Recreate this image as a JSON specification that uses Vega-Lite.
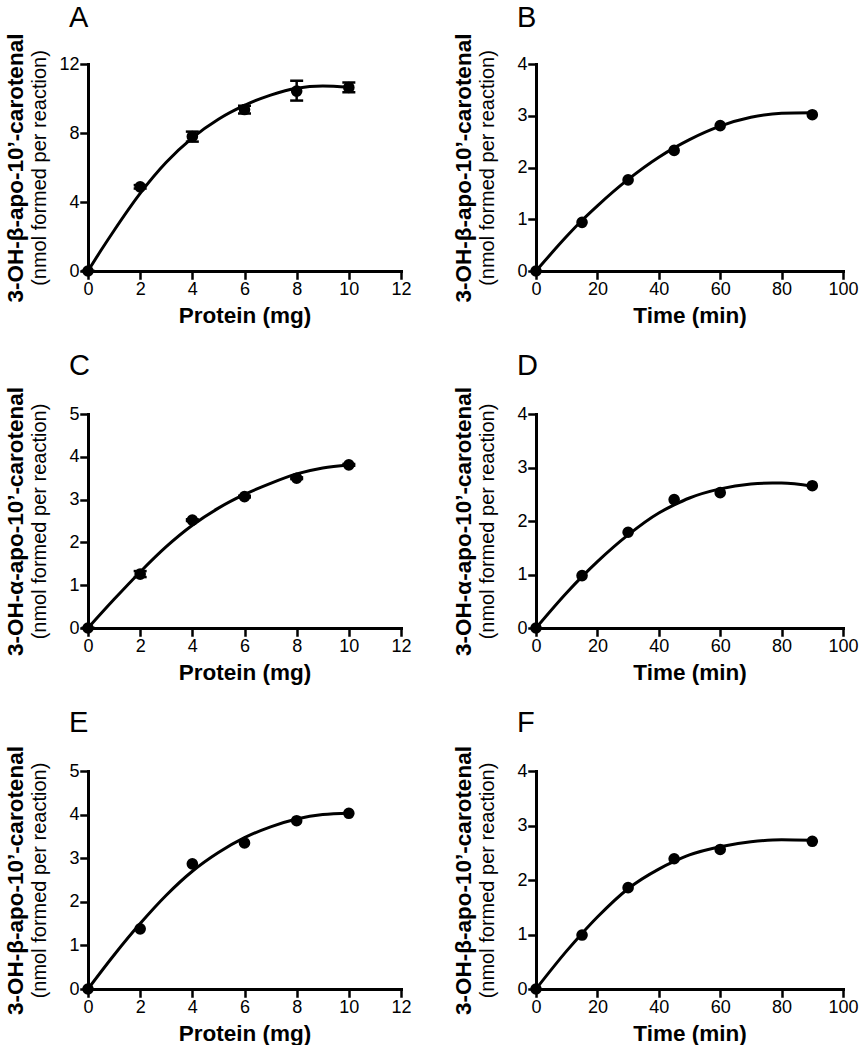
{
  "$schema": "https://vega.github.io/schema/vega-lite/v6.json",
  "autosize": {"type": "pad"},
  "padding": {"left": 3, "top": 4, "right": 0, "bottom": 0},
  "background": "white",
  "columns": 2,
  "bounds": "flush",
  "spacing": {"row": 143, "column": 135},
  "datasets": {
    "A_pts": [
      {"x": 0, "y": 0, "lo": 0, "hi": 0},
      {"x": 2, "y": 4.88, "lo": 4.78, "hi": 4.98},
      {"x": 4, "y": 7.8, "lo": 7.5, "hi": 8.08},
      {"x": 6, "y": 9.36, "lo": 9.13, "hi": 9.58},
      {"x": 8, "y": 10.43, "lo": 9.88, "hi": 11.03},
      {"x": 10, "y": 10.64, "lo": 10.36, "hi": 10.93}
    ],
    "A_fit": [
      {"x": 0, "y": 0}, {"x": 0.5, "y": 1.2}, {"x": 1, "y": 2.35}, {"x": 2, "y": 4.5},
      {"x": 3, "y": 6.3}, {"x": 4, "y": 7.72}, {"x": 5, "y": 8.8}, {"x": 6, "y": 9.6},
      {"x": 7, "y": 10.2}, {"x": 8, "y": 10.6}, {"x": 9, "y": 10.72}, {"x": 10, "y": 10.65}
    ],
    "B_pts": [
      {"x": 0, "y": 0}, {"x": 15, "y": 0.94}, {"x": 30, "y": 1.76},
      {"x": 45, "y": 2.33}, {"x": 60, "y": 2.81}, {"x": 90, "y": 3.02}
    ],
    "B_fit": [
      {"x": 0, "y": 0}, {"x": 10, "y": 0.67}, {"x": 15, "y": 0.98}, {"x": 20, "y": 1.26},
      {"x": 30, "y": 1.77}, {"x": 40, "y": 2.2}, {"x": 45, "y": 2.38}, {"x": 50, "y": 2.54},
      {"x": 60, "y": 2.8}, {"x": 70, "y": 2.97}, {"x": 80, "y": 3.05}, {"x": 90, "y": 3.06}
    ],
    "C_pts": [
      {"x": 0, "y": 0, "lo": 0, "hi": 0},
      {"x": 2, "y": 1.26, "lo": 1.19, "hi": 1.33},
      {"x": 4, "y": 2.52, "lo": 2.5, "hi": 2.54},
      {"x": 6, "y": 3.07, "lo": 3.05, "hi": 3.09},
      {"x": 8, "y": 3.5, "lo": 3.48, "hi": 3.52},
      {"x": 10, "y": 3.81, "lo": 3.79, "hi": 3.83}
    ],
    "C_fit": [
      {"x": 0, "y": 0}, {"x": 1, "y": 0.67}, {"x": 2, "y": 1.31}, {"x": 3, "y": 1.9},
      {"x": 4, "y": 2.4}, {"x": 5, "y": 2.8}, {"x": 6, "y": 3.12}, {"x": 7, "y": 3.38},
      {"x": 8, "y": 3.6}, {"x": 9, "y": 3.74}, {"x": 10, "y": 3.81}
    ],
    "D_pts": [
      {"x": 0, "y": 0}, {"x": 15, "y": 0.98}, {"x": 30, "y": 1.79},
      {"x": 45, "y": 2.4}, {"x": 60, "y": 2.53}, {"x": 90, "y": 2.66}
    ],
    "D_fit": [
      {"x": 0, "y": 0}, {"x": 10, "y": 0.66}, {"x": 15, "y": 0.96}, {"x": 20, "y": 1.24},
      {"x": 30, "y": 1.74}, {"x": 40, "y": 2.15}, {"x": 45, "y": 2.3}, {"x": 50, "y": 2.43},
      {"x": 60, "y": 2.6}, {"x": 70, "y": 2.69}, {"x": 77, "y": 2.71}, {"x": 80, "y": 2.71}, {"x": 90, "y": 2.65}
    ],
    "E_pts": [
      {"x": 0, "y": 0}, {"x": 2, "y": 1.38}, {"x": 4, "y": 2.87},
      {"x": 6, "y": 3.35}, {"x": 8, "y": 3.86}, {"x": 10, "y": 4.03}
    ],
    "E_fit": [
      {"x": 0, "y": 0}, {"x": 1, "y": 0.78}, {"x": 2, "y": 1.5}, {"x": 3, "y": 2.15},
      {"x": 4, "y": 2.7}, {"x": 5, "y": 3.13}, {"x": 6, "y": 3.47}, {"x": 7, "y": 3.72},
      {"x": 8, "y": 3.9}, {"x": 9, "y": 4.0}, {"x": 10, "y": 4.03}
    ],
    "F_pts": [
      {"x": 0, "y": 0}, {"x": 15, "y": 0.99}, {"x": 30, "y": 1.86},
      {"x": 45, "y": 2.39}, {"x": 60, "y": 2.56}, {"x": 90, "y": 2.71}
    ],
    "F_fit": [
      {"x": 0, "y": 0}, {"x": 10, "y": 0.7}, {"x": 15, "y": 1.02}, {"x": 20, "y": 1.32},
      {"x": 30, "y": 1.84}, {"x": 40, "y": 2.2}, {"x": 45, "y": 2.34}, {"x": 50, "y": 2.46},
      {"x": 60, "y": 2.61}, {"x": 70, "y": 2.7}, {"x": 80, "y": 2.74}, {"x": 90, "y": 2.73}
    ]
  },
  "concat": [
    {
      "width": 313, "height": 207,
      "title": {"text": "A", "offset": 0},
      "encoding": {"x": {"field": "x", "type": "quantitative", "scale": {"domain": [0, 12], "nice": false, "zero": false}, "axis": {"title": "Protein (mg)", "values": [0, 2, 4, 6, 8, 10, 12]}}},
      "layer": [
        {"data": {"name": "A_fit"}, "mark": {"type": "line", "interpolate": "monotone", "color": "black", "strokeWidth": 3},
         "encoding": {"y": {"field": "y", "type": "quantitative", "scale": {"domain": [0, 12], "nice": false}, "axis": {"orient": "left", "title": "3-OH-β-apo-10’-carotenal", "labels": false, "ticks": false, "domain": false, "titleFontWeight": "bold", "titleFontSize": 22.5, "titleX": -61, "values": [0, 4, 8, 12]}}}},
        {"data": {"name": "A_pts"}, "mark": {"type": "rule", "color": "black", "strokeWidth": 2.5},
         "encoding": {"y": {"field": "lo", "type": "quantitative", "axis": null}, "y2": {"field": "hi"}}},
        {"data": {"name": "A_pts"}, "mark": {"type": "tick", "orient": "horizontal", "color": "black", "size": 13, "thickness": 2.5, "opacity": 1},
         "encoding": {"y": {"field": "lo", "type": "quantitative", "axis": null}}},
        {"data": {"name": "A_pts"}, "mark": {"type": "tick", "orient": "horizontal", "color": "black", "size": 13, "thickness": 2.5, "opacity": 1},
         "encoding": {"y": {"field": "hi", "type": "quantitative", "axis": null}}},
        {"data": {"name": "A_pts"}, "mark": {"type": "point", "shape": "circle", "filled": true, "size": 135, "color": "black", "opacity": 1},
         "encoding": {"y": {"field": "y", "type": "quantitative", "scale": {"domain": [0, 12], "nice": false}, "axis": {"orient": "left", "title": "(nmol formed per reaction)", "titleFontWeight": "normal", "titleFontSize": 20, "titleX": -39, "values": [0, 4, 8, 12]}}}}
      ],
      "resolve": {"axis": {"y": "independent"}}
    },
    {
      "width": 307, "height": 207,
      "title": {"text": "B", "offset": 0},
      "encoding": {"x": {"field": "x", "type": "quantitative", "scale": {"domain": [0, 100], "nice": false, "zero": false}, "axis": {"title": "Time (min)", "values": [0, 20, 40, 60, 80, 100]}}},
      "layer": [
        {"data": {"name": "B_fit"}, "mark": {"type": "line", "interpolate": "monotone", "color": "black", "strokeWidth": 3},
         "encoding": {"y": {"field": "y", "type": "quantitative", "scale": {"domain": [0, 4], "nice": false}, "axis": {"orient": "left", "title": "3-OH-β-apo-10’-carotenal", "labels": false, "ticks": false, "domain": false, "titleFontWeight": "bold", "titleFontSize": 22.5, "titleX": -61, "values": [0, 1, 2, 3, 4]}}}},
        {"data": {"name": "B_pts"}, "mark": {"type": "point", "shape": "circle", "filled": true, "size": 135, "color": "black", "opacity": 1},
         "encoding": {"y": {"field": "y", "type": "quantitative", "scale": {"domain": [0, 4], "nice": false}, "axis": {"orient": "left", "title": "(nmol formed per reaction)", "titleFontWeight": "normal", "titleFontSize": 20, "titleX": -39, "values": [0, 1, 2, 3, 4]}}}}
      ],
      "resolve": {"axis": {"y": "independent"}}
    },
    {
      "width": 313, "height": 214,
      "title": {"text": "C", "offset": 6},
      "encoding": {"x": {"field": "x", "type": "quantitative", "scale": {"domain": [0, 12], "nice": false, "zero": false}, "axis": {"title": "Protein (mg)", "values": [0, 2, 4, 6, 8, 10, 12]}}},
      "layer": [
        {"data": {"name": "C_fit"}, "mark": {"type": "line", "interpolate": "monotone", "color": "black", "strokeWidth": 3},
         "encoding": {"y": {"field": "y", "type": "quantitative", "scale": {"domain": [0, 5], "nice": false}, "axis": {"orient": "left", "title": "3-OH-α-apo-10’-carotenal", "labels": false, "ticks": false, "domain": false, "titleFontWeight": "bold", "titleFontSize": 22.5, "titleX": -61, "values": [0, 1, 2, 3, 4, 5]}}}},
        {"data": {"name": "C_pts"}, "mark": {"type": "rule", "color": "black", "strokeWidth": 2.5},
         "encoding": {"y": {"field": "lo", "type": "quantitative", "axis": null}, "y2": {"field": "hi"}}},
        {"data": {"name": "C_pts"}, "mark": {"type": "tick", "orient": "horizontal", "color": "black", "size": 13, "thickness": 2.5, "opacity": 1},
         "encoding": {"y": {"field": "lo", "type": "quantitative", "axis": null}}},
        {"data": {"name": "C_pts"}, "mark": {"type": "tick", "orient": "horizontal", "color": "black", "size": 13, "thickness": 2.5, "opacity": 1},
         "encoding": {"y": {"field": "hi", "type": "quantitative", "axis": null}}},
        {"data": {"name": "C_pts"}, "mark": {"type": "point", "shape": "circle", "filled": true, "size": 135, "color": "black", "opacity": 1},
         "encoding": {"y": {"field": "y", "type": "quantitative", "scale": {"domain": [0, 5], "nice": false}, "axis": {"orient": "left", "title": "(nmol formed per reaction)", "titleFontWeight": "normal", "titleFontSize": 20, "titleX": -39, "values": [0, 1, 2, 3, 4, 5]}}}}
      ],
      "resolve": {"axis": {"y": "independent"}}
    },
    {
      "width": 307, "height": 214,
      "title": {"text": "D", "offset": 6},
      "encoding": {"x": {"field": "x", "type": "quantitative", "scale": {"domain": [0, 100], "nice": false, "zero": false}, "axis": {"title": "Time (min)", "values": [0, 20, 40, 60, 80, 100]}}},
      "layer": [
        {"data": {"name": "D_fit"}, "mark": {"type": "line", "interpolate": "monotone", "color": "black", "strokeWidth": 3},
         "encoding": {"y": {"field": "y", "type": "quantitative", "scale": {"domain": [0, 4], "nice": false}, "axis": {"orient": "left", "title": "3-OH-α-apo-10’-carotenal", "labels": false, "ticks": false, "domain": false, "titleFontWeight": "bold", "titleFontSize": 22.5, "titleX": -61, "values": [0, 1, 2, 3, 4]}}}},
        {"data": {"name": "D_pts"}, "mark": {"type": "point", "shape": "circle", "filled": true, "size": 135, "color": "black", "opacity": 1},
         "encoding": {"y": {"field": "y", "type": "quantitative", "scale": {"domain": [0, 4], "nice": false}, "axis": {"orient": "left", "title": "(nmol formed per reaction)", "titleFontWeight": "normal", "titleFontSize": 20, "titleX": -39, "values": [0, 1, 2, 3, 4]}}}}
      ],
      "resolve": {"axis": {"y": "independent"}}
    },
    {
      "width": 313, "height": 218,
      "title": {"text": "E", "offset": 8},
      "encoding": {"x": {"field": "x", "type": "quantitative", "scale": {"domain": [0, 12], "nice": false, "zero": false}, "axis": {"title": "Protein (mg)", "values": [0, 2, 4, 6, 8, 10, 12]}}},
      "layer": [
        {"data": {"name": "E_fit"}, "mark": {"type": "line", "interpolate": "monotone", "color": "black", "strokeWidth": 3},
         "encoding": {"y": {"field": "y", "type": "quantitative", "scale": {"domain": [0, 5], "nice": false}, "axis": {"orient": "left", "title": "3-OH-β-apo-10’-carotenal", "labels": false, "ticks": false, "domain": false, "titleFontWeight": "bold", "titleFontSize": 22.5, "titleX": -61, "values": [0, 1, 2, 3, 4, 5]}}}},
        {"data": {"name": "E_pts"}, "mark": {"type": "point", "shape": "circle", "filled": true, "size": 135, "color": "black", "opacity": 1},
         "encoding": {"y": {"field": "y", "type": "quantitative", "scale": {"domain": [0, 5], "nice": false}, "axis": {"orient": "left", "title": "(nmol formed per reaction)", "titleFontWeight": "normal", "titleFontSize": 20, "titleX": -39, "values": [0, 1, 2, 3, 4, 5]}}}}
      ],
      "resolve": {"axis": {"y": "independent"}}
    },
    {
      "width": 307, "height": 218,
      "title": {"text": "F", "offset": 8},
      "encoding": {"x": {"field": "x", "type": "quantitative", "scale": {"domain": [0, 100], "nice": false, "zero": false}, "axis": {"title": "Time (min)", "values": [0, 20, 40, 60, 80, 100]}}},
      "layer": [
        {"data": {"name": "F_fit"}, "mark": {"type": "line", "interpolate": "monotone", "color": "black", "strokeWidth": 3},
         "encoding": {"y": {"field": "y", "type": "quantitative", "scale": {"domain": [0, 4], "nice": false}, "axis": {"orient": "left", "title": "3-OH-β-apo-10’-carotenal", "labels": false, "ticks": false, "domain": false, "titleFontWeight": "bold", "titleFontSize": 22.5, "titleX": -61, "values": [0, 1, 2, 3, 4]}}}},
        {"data": {"name": "F_pts"}, "mark": {"type": "point", "shape": "circle", "filled": true, "size": 135, "color": "black", "opacity": 1},
         "encoding": {"y": {"field": "y", "type": "quantitative", "scale": {"domain": [0, 4], "nice": false}, "axis": {"orient": "left", "title": "(nmol formed per reaction)", "titleFontWeight": "normal", "titleFontSize": 20, "titleX": -39, "values": [0, 1, 2, 3, 4]}}}}
      ],
      "resolve": {"axis": {"y": "independent"}}
    }
  ],
  "config": {
    "font": "Liberation Sans",
    "view": {"stroke": null},
    "axis": {
      "domainColor": "black", "domainWidth": 3, "domainCap": "square",
      "tickColor": "black", "tickWidth": 2.5, "tickSize": 7, "tickCap": "square",
      "labelColor": "black", "labelFontSize": 18, "labelPadding": 2, "labelFont": "Liberation Sans",
      "titleColor": "black", "titleFont": "Liberation Sans", "grid": false,
      "labelFlush": false, "labelOverlap": false
    },
    "axisX": {"titleFontSize": 22.5, "titleFontWeight": "bold", "titlePadding": 6},
    "title": {"font": "Liberation Sans", "fontSize": 29, "fontWeight": "normal", "anchor": "start", "frame": "group", "color": "black", "dx": -19}
  }
}
